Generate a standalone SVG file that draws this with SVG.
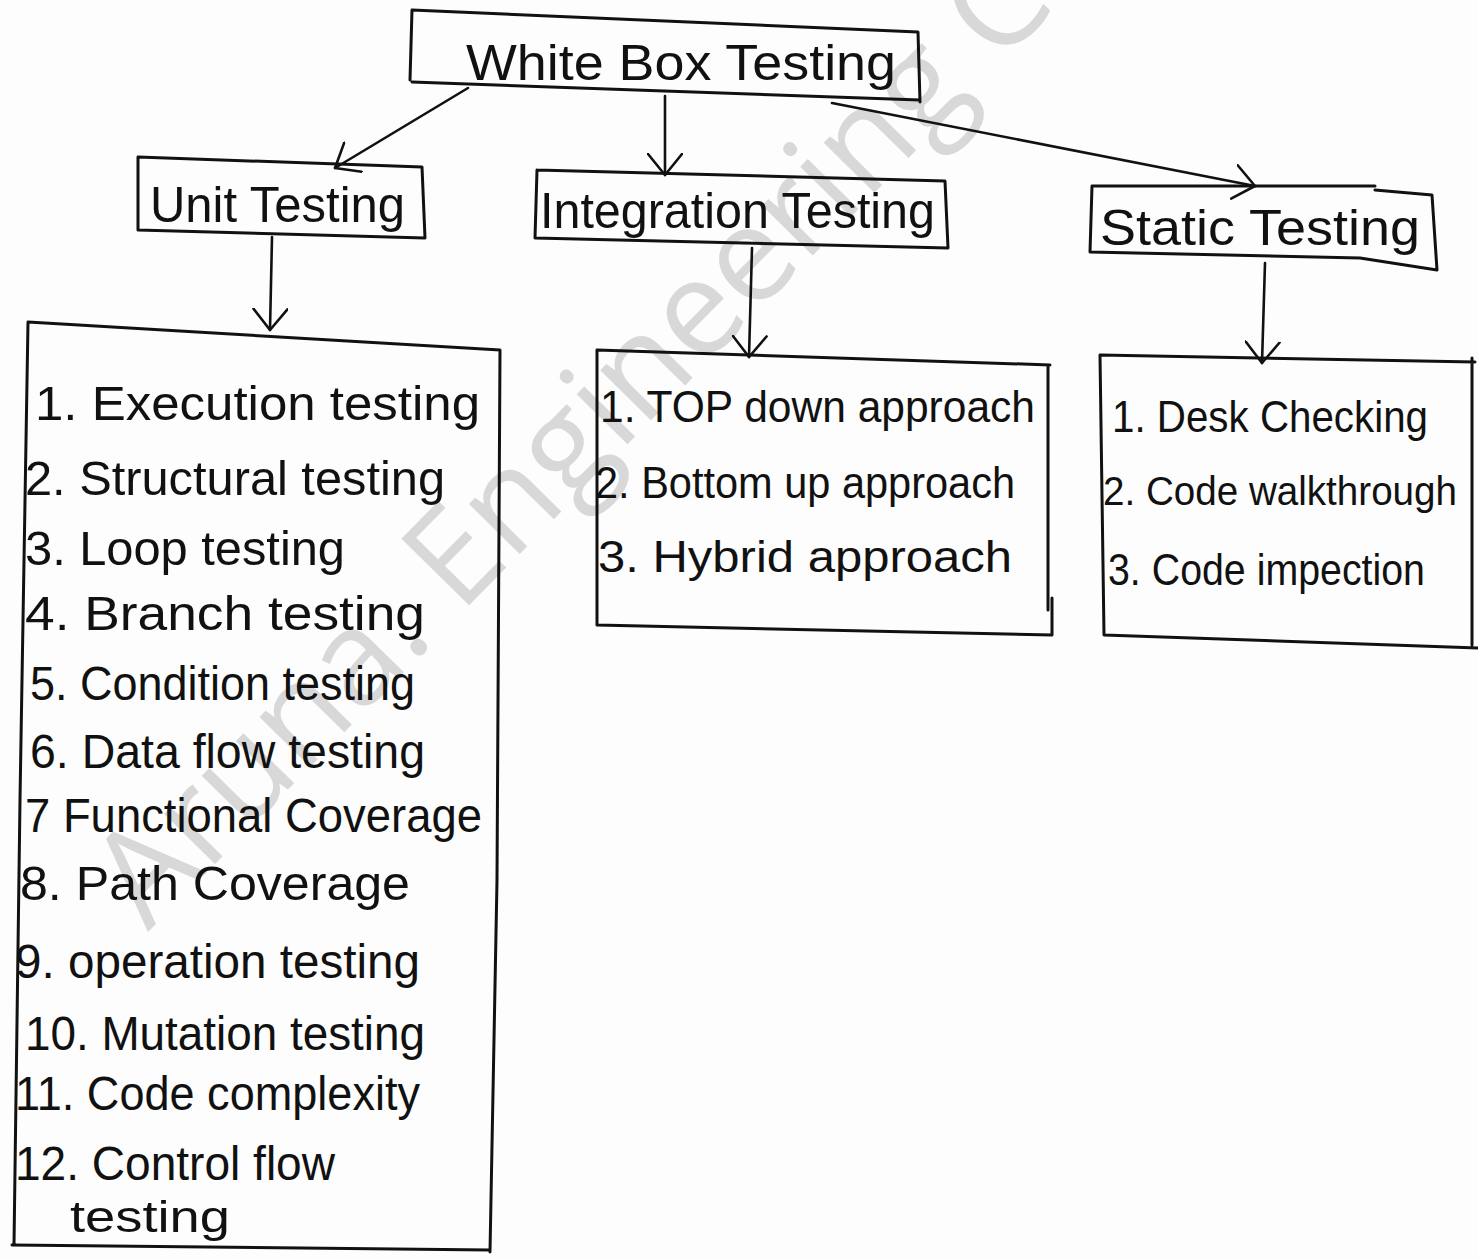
<svg xmlns="http://www.w3.org/2000/svg" width="1478" height="1259" viewBox="0 0 1478 1259">
  <defs>
    <style>
      .box { fill: none; stroke: #111; stroke-width: 3; stroke-linecap: round; stroke-linejoin: round; }
      .wire { fill: none; stroke: #111; stroke-width: 2.6; stroke-linecap: round; }
      .hand { font-family: "Liberation Sans", "DejaVu Sans", sans-serif; fill: #111; }
      .head { font-size: 50px; }
      .item { font-size: 48px; }
      .item-s { font-size: 44px; }
      .mark { font-family: "Open Sans", "Lato", "Noto Sans", sans-serif; font-weight: 400; font-size: 133px; fill: #d8d8d8; }
    </style>
    <marker id="vee" viewBox="0 0 24 36" refX="22" refY="18" markerWidth="24" markerHeight="36" markerUnits="userSpaceOnUse" orient="auto">
      <path d="M1,1 L22,18 L1,35" fill="none" stroke="#111" stroke-width="2.6" stroke-linecap="round" stroke-linejoin="round"/>
    </marker>
  </defs>

  <rect width="1478" height="1259" fill="#fdfdfd"/>

  <!-- background watermark -->
  <text class="mark" transform="translate(148,932) rotate(-45.5)">Aruna. Engineering C</text>

  <!-- connectors -->
  <g id="connectors">
    <path class="wire" d="M468,88 L335,168" marker-end="url(#vee)"/>
    <path class="wire" d="M665,96 L665,175" marker-end="url(#vee)"/>
    <path class="wire" d="M832,103 L1255,186" marker-end="url(#vee)"/>
    <path class="wire" d="M272,237 L270,330" marker-end="url(#vee)"/>
    <path class="wire" d="M752,248 L749,357" marker-end="url(#vee)"/>
    <path class="wire" d="M1265,263 L1262,363" marker-end="url(#vee)"/>
  </g>

  <!-- root -->
  <g id="white-box-testing">
    <path class="box" d="M412,10 L918,32 L920,102 M412,82 L920,100 M412,10 L410,80"/>
    <text class="hand head" x="466" y="80" textLength="430" lengthAdjust="spacingAndGlyphs">White Box Testing</text>
  </g>

  <!-- second level -->
  <g id="unit-testing">
    <path class="box" d="M138,157 L422,167 L425,238 M138,230 L425,238 M138,157 L138,230"/>
    <text class="hand head" x="150" y="222" textLength="255" lengthAdjust="spacingAndGlyphs">Unit Testing</text>
  </g>

  <g id="integration-testing">
    <path class="box" d="M537,170 L945,181 L948,248 M535,238 L948,248 M537,170 L535,238"/>
    <text class="hand head" x="540" y="228" textLength="395" lengthAdjust="spacingAndGlyphs">Integration Testing</text>
  </g>

  <g id="static-testing">
    <path class="box" d="M1092,186 L1375,186 M1375,190 L1432,195 L1437,270 M1090,252 L1360,258 L1437,270 M1092,186 L1090,252"/>
    <text class="hand head" x="1100" y="245" textLength="320" lengthAdjust="spacingAndGlyphs">Static Testing</text>
  </g>

  <!-- detail lists -->
  <g id="unit-list">
    <path class="box" d="M28,322 L500,350 L497,880 L490,1252 M12,1245 L490,1250 M28,322 L20,800 L14,1245"/>
    <text class="hand item" x="35" y="420" textLength="445" lengthAdjust="spacingAndGlyphs">1. Execution testing</text>
    <text class="hand item" x="25" y="495" textLength="420" lengthAdjust="spacingAndGlyphs">2. Structural testing</text>
    <text class="hand item" x="25" y="565" textLength="320" lengthAdjust="spacingAndGlyphs">3. Loop testing</text>
    <text class="hand item" x="25" y="630" textLength="400" lengthAdjust="spacingAndGlyphs">4. Branch testing</text>
    <text class="hand item" x="30" y="700" textLength="385" lengthAdjust="spacingAndGlyphs">5. Condition testing</text>
    <text class="hand item" x="30" y="768" textLength="395" lengthAdjust="spacingAndGlyphs">6. Data flow testing</text>
    <text class="hand item" x="25" y="832" textLength="457" lengthAdjust="spacingAndGlyphs">7 Functional Coverage</text>
    <text class="hand item" x="20" y="900" textLength="390" lengthAdjust="spacingAndGlyphs">8. Path Coverage</text>
    <text class="hand item" x="15" y="978" textLength="405" lengthAdjust="spacingAndGlyphs">9. operation testing</text>
    <text class="hand item" x="25" y="1050" textLength="400" lengthAdjust="spacingAndGlyphs">10. Mutation testing</text>
    <text class="hand item" x="15" y="1110" textLength="405" lengthAdjust="spacingAndGlyphs">11. Code complexity</text>
    <text class="hand item" x="15" y="1180" textLength="320" lengthAdjust="spacingAndGlyphs">12. Control flow</text>
    <text class="hand item-s" x="70" y="1232" textLength="160" lengthAdjust="spacingAndGlyphs">testing</text>
  </g>

  <g id="integration-list">
    <path class="box" d="M597,350 L1050,365 M1048,365 L1048,610 M1052,598 L1052,635 M597,625 L1052,635 M597,350 L597,625"/>
    <text class="hand item-s" x="600" y="422" textLength="435" lengthAdjust="spacingAndGlyphs">1. TOP down approach</text>
    <text class="hand item-s" x="595" y="498" textLength="420" lengthAdjust="spacingAndGlyphs">2. Bottom up approach</text>
    <text class="hand item-s" x="598" y="572" textLength="414" lengthAdjust="spacingAndGlyphs">3. Hybrid approach</text>
  </g>

  <g id="static-list">
    <path class="box" d="M1100,355 L1475,362 M1472,358 L1472,645 M1104,635 L1478,648 M1100,355 L1104,635"/>
    <text class="hand item-s" x="1112" y="432" textLength="316" lengthAdjust="spacingAndGlyphs">1. Desk Checking</text>
    <text class="hand item-s" x="1103" y="505" textLength="354" lengthAdjust="spacingAndGlyphs" style="font-size:41px">2. Code walkthrough</text>
    <text class="hand item-s" x="1108" y="585" textLength="317" lengthAdjust="spacingAndGlyphs">3. Code impection</text>
  </g>
</svg>
